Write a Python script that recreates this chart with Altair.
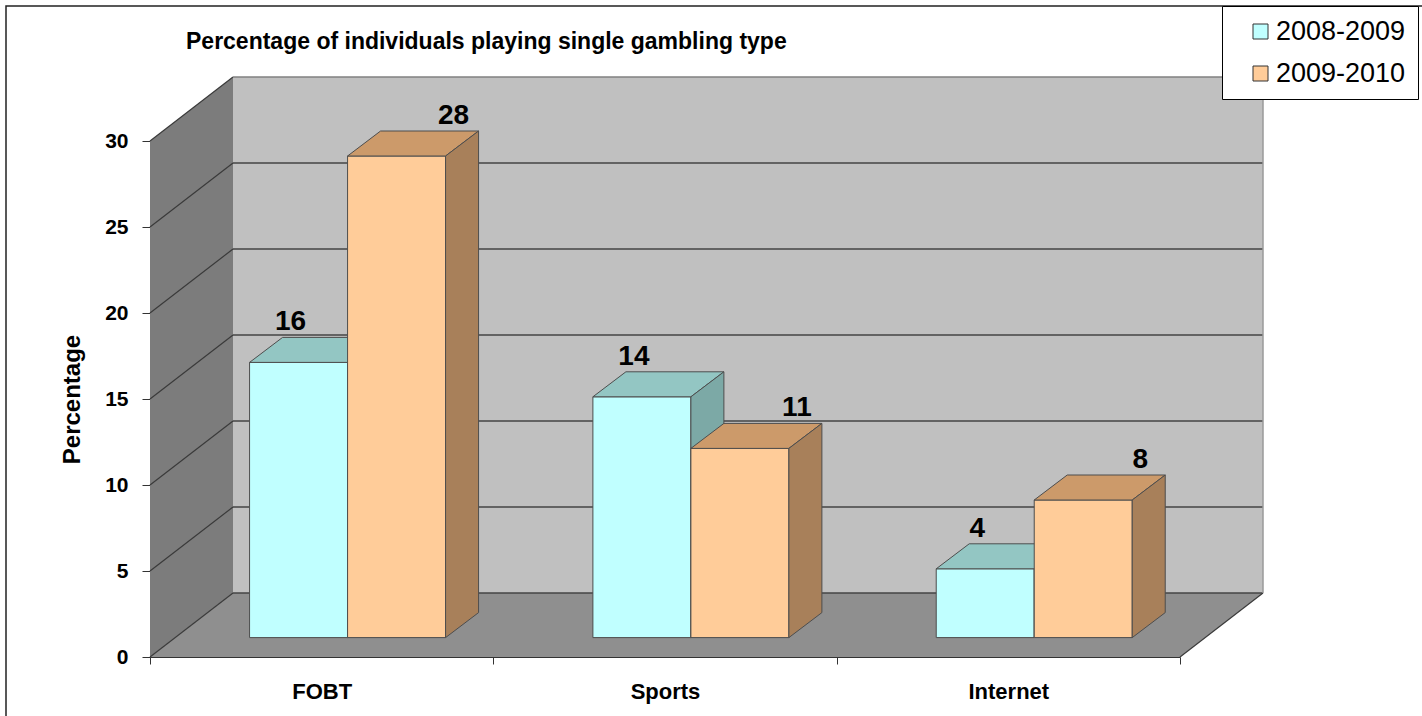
import altair as alt
import pandas as pd

# ---------------- data ----------------
categories = ["FOBT", "Sports", "Internet"]
series_names = ["2008-2009", "2009-2010"]
values_0809 = [16, 14, 4]
values_0910 = [28, 11, 8]
y_ticks = [0, 5, 10, 15, 20, 25, 30]
title_text = "Percentage of individuals playing single gambling type"
y_title = "Percentage"

# ---------------- layout / style ----------------
W, H = 1030, 516
Y_MAX = 30
N = len(categories)
PX_X = W / N          # pixels per category unit
PX_Y = H / Y_MAX      # pixels per percentage point
ROOM_DX = 83 / PX_X   # depth of the 3D room
ROOM_DY = 64 / PX_Y
BAR_LEFT = 0.29       # start of first bar inside a category band
BAR_W = 98 / PX_X
BAR_BASE = 19.4 / PX_Y
BAR_DX = 33 / PX_X    # depth of bars
BAR_DY = 25 / PX_Y
LABEL_SHIFT = [-8, 57]  # px, horizontal shift of value labels per series

FONT = "Liberation Sans"
front_colors = ["#c0ffff", "#ffcc99"]
top_colors = ["#93c6c3", "#cc9a6a"]
side_colors = ["#7ca9a6", "#a8805a"]
edge_color = "#4d4d4d"

xs = alt.Scale(domain=[0, N], nice=False, zero=False)
ys = alt.Scale(domain=[0, Y_MAX], nice=False, zero=False)

label_expr = ("datum.value % 1 == 0.5 ? " + str(categories).replace('"', "'")
              + "[floor(datum.value)] : ''")
x_axis = alt.Axis(
    values=[k / 2 for k in range(2 * N + 1)],
    labelExpr=label_expr,
    title=None,
    grid=False,
    tickSize=7,
    tickColor="#333333",
    tickOpacity={"condition": {"test": "datum.value % 1 == 0", "value": 1}, "value": 0},
    domainColor="#333333",
    labelFont=FONT,
    labelFontSize=22,
    labelFontWeight="bold",
    labelColor="black",
    labelPadding=17,
    labelOverlap=False,
    labelFlush=False,
)
y_axis = alt.Axis(
    values=y_ticks,
    title=y_title,
    grid=False,
    tickSize=8,
    tickColor="#333333",
    domainColor="#333333",
    labelFont=FONT,
    labelFontSize=21,
    labelFontWeight="bold",
    labelColor="black",
    labelPadding=14,
    titleFont=FONT,
    titleFontSize=24,
    titleFontWeight="bold",
    titleColor="black",
    titlePadding=20,
)


def X(f):
    return alt.X(f, scale=xs, axis=x_axis)


def Y(f):
    return alt.Y(f, scale=ys, axis=y_axis, stack=None)


# ---------------- 3D room ----------------
back_df = pd.DataFrame([dict(x=ROOM_DX, x2=N + ROOM_DX, y=ROOM_DY, y2=Y_MAX + ROOM_DY)])
back_wall = alt.Chart(back_df).mark_rect(fill="#c0c0c0").encode(
    x=X("x:Q"), x2="x2:Q", y=Y("y:Q"), y2="y2:Q")

left_df = pd.DataFrame([dict(x=0, y=0, y2=Y_MAX), dict(x=ROOM_DX, y=ROOM_DY, y2=Y_MAX + ROOM_DY)])
left_wall = alt.Chart(left_df).mark_area(orient="vertical", fill="#7c7c7c").encode(
    x=X("x:Q"), y=Y("y:Q"), y2="y2:Q")

floor_df = pd.DataFrame([dict(y=0, x=0, x2=N), dict(y=ROOM_DY, x=ROOM_DX, x2=N + ROOM_DX)])
floor = alt.Chart(floor_df).mark_area(orient="horizontal", fill="#8f8f8f").encode(
    y=Y("y:Q"), x=X("x:Q"), x2="x2:Q")

seg = []
for g in y_ticks:
    # slanted lines on the left wall
    seg.append((f"l{g}", 0, g, ROOM_DX, g + ROOM_DY, "#3a3a3a", 1.2))
    # horizontal lines on the back wall
    seg.append((f"b{g}", ROOM_DX, g + ROOM_DY, N + ROOM_DX, g + ROOM_DY,
                "#808080" if g == Y_MAX else "#444444", 1.4))
seg.append(("fr", N, 0, N + ROOM_DX, ROOM_DY, "#3a3a3a", 1.2))
seg.append(("br", N + ROOM_DX, ROOM_DY, N + ROOM_DX, Y_MAX + ROOM_DY, "#9a9a9a", 1.5))
seg_rows = []
for sid, x0, y0, x1, y1, c, w in seg:
    seg_rows.append(dict(seg=sid, k=0, x=x0, y=y0, col=c, w=w))
    seg_rows.append(dict(seg=sid, k=1, x=x1, y=y1, col=c, w=w))
lines = alt.Chart(pd.DataFrame(seg_rows)).mark_line().encode(
    x=X("x:Q"), y=Y("y:Q"), detail="seg:N", order="k:Q",
    stroke=alt.Stroke("col:N", scale=None),
    strokeWidth=alt.StrokeWidth("w:Q", scale=None))

# ---------------- bars ----------------
color_scale = alt.Scale(domain=series_names, range=front_colors)
legend = alt.Legend(
    title=None, orient="none", legendX=1072, legendY=-135,
    fillColor="white", strokeColor="black", padding=12,
    labelFont=FONT, labelFontSize=27, labelColor="black",
    symbolType="square", symbolSize=225, symbolStrokeColor="#333333",
    symbolStrokeWidth=1, symbolOffset=13, labelOffset=2, rowPadding=14,
)

bar_rows = []
bar_layers = []
for s, (name, vals) in enumerate(zip(series_names, [values_0809, values_0910])):
    front_rows = []
    face_layers = []
    for i, (cat, v) in enumerate(zip(categories, vals)):
        left = i + BAR_LEFT + s * BAR_W
        right = left + BAR_W
        base = BAR_BASE
        top = BAR_BASE + v
        row = dict(category=cat, series=name, value=v,
                   x=left, x2=right, y=base, y2=top,
                   lx=left + BAR_W / 2 + LABEL_SHIFT[s] / PX_X,
                   ly=top + BAR_DY)
        bar_rows.append(row)
        front_rows.append(row)
        top_face = pd.DataFrame([
            dict(y=top, x=left, x2=right),
            dict(y=top + BAR_DY, x=left + BAR_DX, x2=right + BAR_DX)])
        side_face = pd.DataFrame([
            dict(x=right, y=base, y2=top),
            dict(x=right + BAR_DX, y=base + BAR_DY, y2=top + BAR_DY)])
        face_layers.append(alt.Chart(top_face).mark_area(
            orient="horizontal", fill=top_colors[s], stroke=edge_color,
            strokeWidth=1).encode(y=Y("y:Q"), x=X("x:Q"), x2="x2:Q"))
        face_layers.append(alt.Chart(side_face).mark_area(
            orient="vertical", fill=side_colors[s], stroke=edge_color,
            strokeWidth=1).encode(x=X("x:Q"), y=Y("y:Q"), y2="y2:Q"))
    front = alt.Chart(pd.DataFrame(front_rows)).mark_rect(
        stroke=edge_color, strokeWidth=1).encode(
        x=X("x:Q"), x2="x2:Q", y=Y("y:Q"), y2="y2:Q",
        color=alt.Color("series:N", scale=color_scale, legend=legend))
    bar_layers += [front] + face_layers

bars_df = pd.DataFrame(bar_rows)
labels = alt.Chart(bars_df).mark_text(
    font=FONT, fontSize=28, fontWeight="bold", color="black",
    baseline="alphabetic", align="center", dy=-7).encode(
    x=X("lx:Q"), y=Y("ly:Q"), text="value:Q")

title = alt.Chart(pd.DataFrame({"t": [title_text]})).mark_text(
    font=FONT, fontSize=23, fontWeight="bold", color="black",
    align="left", baseline="middle").encode(
    x=alt.value(36), y=alt.value(-99), text="t:N")

frame = alt.Chart(pd.DataFrame({"f": [1]})).mark_rect(
    fillOpacity=0, stroke="#222222", strokeWidth=1.5).encode(
    x=alt.value(-144), x2=alt.value(W + 300), y=alt.value(-135), y2=alt.value(H + 100))

chart = alt.layer(
    back_wall, left_wall, floor, lines, *bar_layers, labels, title, frame
).properties(
    width=W, height=H,
    padding={"left": 150, "top": 141, "right": 242, "bottom": 59},
    autosize=alt.AutoSizeParams(type="none"),
    background="white",
).configure_view(stroke=None)

chart.save("out.html", embed_options={"renderer": "svg", "actions": False})
